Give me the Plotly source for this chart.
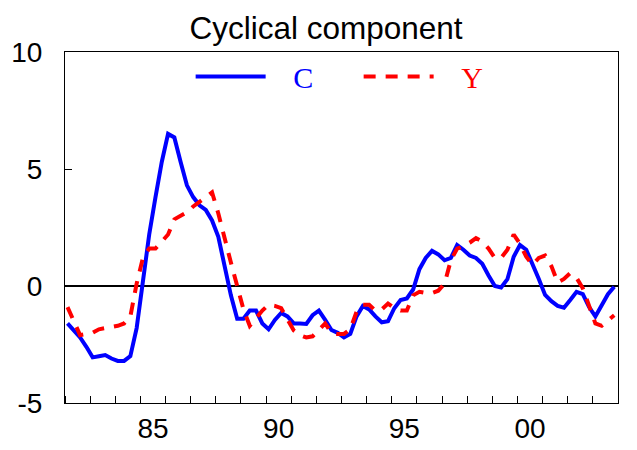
import plotly.graph_objects as go

# Quarterly observations 1982Q1 - 2003Q4
start_year = 1982
n_quarters = 88
quarter_index = list(range(n_quarters))

C = [-1.6, -1.9, -2.2, -2.6, -3.05, -3.0, -2.95, -3.1, -3.2, -3.2,
     -3.0, -1.8, 0.2, 2.2, 3.8, 5.3, 6.5, 6.35, 5.3, 4.3,
     3.8, 3.45, 3.25, 2.8, 2.1, 0.9, -0.4, -1.4, -1.4, -1.05,
     -1.05, -1.6, -1.85, -1.45, -1.15, -1.3, -1.6, -1.6, -1.62, -1.25,
     -1.05, -1.45, -1.88, -2.0, -2.2, -2.05, -1.3, -0.85, -1.0, -1.3,
     -1.55, -1.5, -0.95, -0.6, -0.53, -0.15, 0.72, 1.2, 1.5, 1.35,
     1.1, 1.2, 1.75, 1.55, 1.3, 1.2, 0.95, 0.45, 0.0, -0.06,
     0.29, 1.25, 1.75, 1.55, 0.95, 0.3, -0.38, -0.65, -0.85, -0.93,
     -0.6, -0.25, -0.35, -0.9, -1.3, -0.85, -0.35, -0.03]

Y = [-0.9, -1.5, -2.1, -2.05, -2.0, -1.85, -1.8, -1.75, -1.7, -1.6,
     -1.3, 0.1, 1.2, 1.6, 1.6, 1.9, 2.2, 2.85, 3.0, 3.15,
     3.4, 3.6, 3.85, 4.0, 3.1, 2.0, 1.0, 0.0, -1.0, -1.7,
     -1.35, -1.05, -0.8, -0.85, -0.95, -1.45, -1.9, -2.1, -2.2, -2.15,
     -1.9, -1.6, -2.0, -2.05, -2.05, -1.85, -1.1, -0.8, -0.8, -1.05,
     -1.0, -0.75, -0.95, -1.05, -1.05, -0.4, -0.25, -0.3, -0.3, -0.2,
     0.1, 1.1, 1.6, 1.7, 1.85, 2.05, 1.9, 1.6, 1.2, 1.2,
     1.55, 2.2, 1.8, 1.25, 0.9, 1.2, 1.3, 0.85, 0.15, 0.3,
     0.55, 0.35, -0.1, -0.8, -1.6, -1.7, -1.5, -1.25]

x_tick_vals = [1985.5, 1990.5, 1995.5, 2000.5]
x_tick_text = ["85", "90", "95", "00"]
y_tick_vals = [-5, 0, 5, 10]
y_tick_text = ["-5", "0", "5", "10"]

x = [start_year + (q + 0.4) / 4 for q in quarter_index]

gap = "\u00a0" * 3

fig = go.Figure()
fig.add_trace(go.Scatter(
    x=x, y=C, mode="lines",
    name=gap + '<span style="color:#0000FF">C</span>',
    line=dict(color="#0000FF", width=4),
))
fig.add_trace(go.Scatter(
    x=x, y=Y, mode="lines",
    name=gap + '<span style="color:#FF0000">Y</span>',
    line=dict(color="#FF0000", width=4, dash="12px,10px"),
))

# page body has an 8px default margin, so the figure is 8px smaller
fig.update_layout(
    width=629, height=442,
    margin=dict(l=57, r=19, t=44, b=47, autoexpand=False),
    paper_bgcolor="white", plot_bgcolor="white",
    font=dict(family="Liberation Sans, Arial, sans-serif", size=28, color="black"),
    title=dict(
        text="Cyclical component",
        font=dict(family="Liberation Sans, Arial, sans-serif", size=31.5, color="black"),
        x=0.472, xref="paper", xanchor="center",
        y=1 - 19.5 / 442, yref="container", yanchor="middle",
    ),
    showlegend=True,
    legend=dict(
        orientation="h",
        x=0.531, xanchor="center",
        y=0.93, yanchor="middle",
        font=dict(family="Liberation Serif, Times New Roman, serif", size=30),
        bgcolor="rgba(0,0,0,0)",
        itemwidth=70,
        entrywidth=83,
        tracegroupgap=0,
    ),
    xaxis=dict(
        range=[1982, 2004], automargin=False,
        tickmode="array", tickvals=x_tick_vals, ticktext=x_tick_text,
        ticks="", showgrid=False, zeroline=False,
        showline=True, linecolor="black", linewidth=1, mirror=True,
        minor=dict(tickmode="linear", tick0=1982, dtick=1, ticks="inside",
                   ticklen=7, tickcolor="black", tickwidth=1, showgrid=False),
        tickfont=dict(size=28),
    ),
    yaxis=dict(
        range=[-5, 10], automargin=False,
        tickmode="array", tickvals=y_tick_vals, ticktext=y_tick_text,
        ticks="inside", ticklen=7, tickcolor="black",
        showgrid=False,
        zeroline=True, zerolinecolor="black", zerolinewidth=1.5,
        showline=True, linecolor="black", linewidth=1, mirror=True,
        tickfont=dict(size=28),
        ticklabelstandoff=16,
    ),
)

fig.write_html("out.html")
